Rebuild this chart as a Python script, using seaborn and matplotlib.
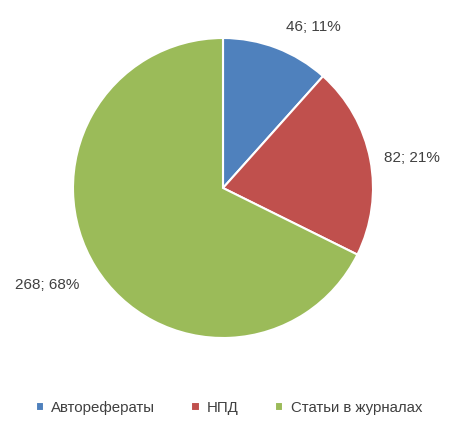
import numpy as np
import seaborn as sns
import matplotlib.pyplot as plt

categories = ['Авторефераты', 'НПД', 'Статьи в журналах']
counts = [46, 82, 268]
percents = [11, 21, 68]
colors = ['#4F81BD', '#C0504D', '#9BBB59']

sns.set_theme(style='white')
plt.rcParams['font.family'] = ['Liberation Sans', 'DejaVu Sans']

fig = plt.figure(figsize=(4.53, 4.30), dpi=100)
ax = fig.add_axes([0, 0, 1, 1])

wedges, _ = ax.pie(counts, colors=colors, startangle=90, counterclock=False,
                   radius=1.0, wedgeprops=dict(edgecolor='white', linewidth=1.5))

# label placement: outside each wedge, aligned by side
offsets = [(0.04, 0.03, 'left', 'bottom'), (0.02, 0.0, 'left', 'center'),
           (-0.05, -0.08, 'right', 'center')]
for w, n, p, (dx, dy, ha, va) in zip(wedges, counts, percents, offsets):
    ang = np.deg2rad((w.theta1 + w.theta2) / 2)
    x, y = 1.07 * np.cos(ang) + dx, 1.07 * np.sin(ang) + dy
    ax.text(x, y, f'{n}; {p}%', ha=ha, va=va, fontsize=11, color='#404040')

ax.set_xlim(-223 / 150, (453 - 223) / 150)
ax.set_ylim(-(430 - 188) / 150, 188 / 150)
ax.set_aspect('auto')
ax.axis('off')

fig.legend(wedges, categories, loc='center', bbox_to_anchor=(0.505, 0.051),
           ncol=3, frameon=False, fontsize=10.8, handlelength=0.55, handleheight=0.55,
           handletextpad=0.5, columnspacing=2.4, labelcolor='#404040')

fig.savefig('out.png', dpi=100)
